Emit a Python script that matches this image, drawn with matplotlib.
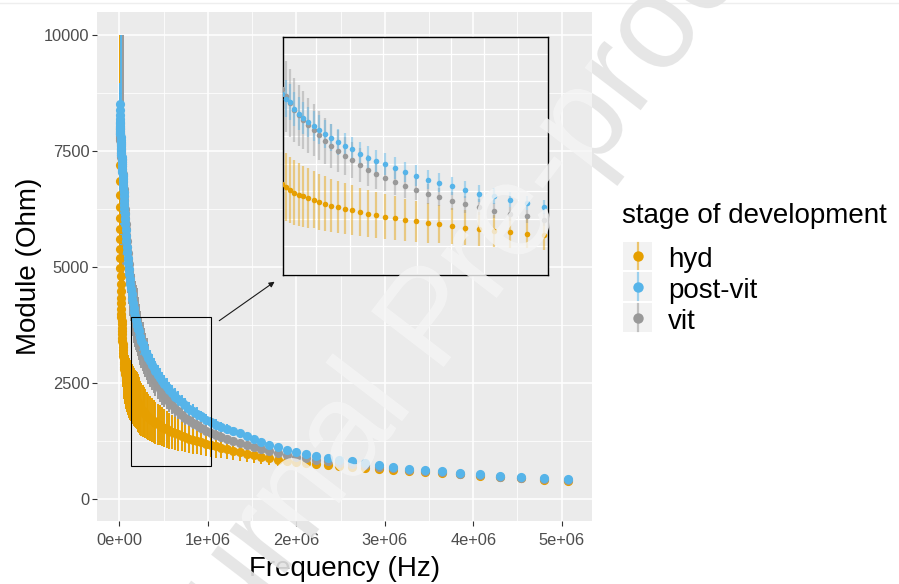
import matplotlib
matplotlib.use('Agg')
import matplotlib.pyplot as plt
from matplotlib.patches import Rectangle, PathPatch
from matplotlib.path import Path
from matplotlib.textpath import TextPath
from matplotlib.font_manager import FontProperties
from matplotlib.transforms import Affine2D, IdentityTransform

plt.rcParams['font.family'] = ['Liberation Sans', 'DejaVu Sans']

# ---------------- data ----------------
freq_hz = [1e3, 2e3, 3e3, 4e3, 5e3, 6e3, 7e3, 8e3, 9e3, 10.5e3, 12e3, 13.5e3, 15e3, 16.5e3,
           18e3, 19.5e3, 21.1e3, 22.3e3, 23.6e3, 24.9e3, 26.3e3, 27.8e3, 29.3e3, 31.0e3,
           32.7e3, 34.6e3, 36.5e3, 38.5e3, 40.7e3, 43.0e3, 45.4e3, 48.0e3, 50.7e3, 53.5e3,
           56.5e3, 59.7e3, 63.0e3, 66.6e3, 70.3e3, 74.3e3, 78.5e3, 82.9e3, 87.6e3, 92.5e3,
           97.7e3, 103e3, 109e3, 115e3, 122e3, 129e3, 136e3, 144e3, 152e3, 160e3, 169e3,
           179e3, 189e3, 199e3,
           211e3, 222e3, 235e3, 248e3, 262e3, 277e3, 293e3, 309e3, 327e3, 345e3, 365e3,
           385e3, 407e3, 430e3, 454e3, 479e3, 506e3, 535e3, 565e3, 597e3, 631e3, 666e3,
           704e3, 743e3, 785e3, 830e3, 876e3, 926e3, 978e3,
           1033e3, 1091e3, 1153e3, 1218e3, 1287e3, 1359e3, 1436e3, 1517e3, 1602e3, 1693e3,
           1788e3, 1889e3, 1995e3, 2108e3, 2227e3, 2352e3, 2485e3, 2625e3, 2773e3, 2929e3,
           3095e3, 3269e3, 3453e3, 3648e3, 3854e3, 4071e3, 4301e3, 4543e3, 4799e3, 5070e3]

hyd = [7200, 6850, 6550, 6300, 6050, 5820, 5600, 5400, 5200, 4990, 4800, 4635, 4480, 4345,
       4220, 4105, 3990, 3920, 3845, 3770, 3700, 3625, 3555, 3480, 3410, 3340, 3270, 3210,
       3145, 3085, 3025, 2965, 2910, 2860, 2815, 2770, 2730, 2690, 2650, 2615, 2580, 2545,
       2510, 2480, 2450, 2420, 2390, 2365, 2335, 2310, 2285, 2260, 2238, 2215, 2192, 2170,
       2148, 2125,
       2074, 2027, 1973, 1936, 1905, 1874, 1845, 1802, 1773, 1736, 1711, 1682, 1651, 1620,
       1591, 1565, 1536, 1505, 1475, 1451, 1420, 1396, 1365, 1336, 1305, 1275, 1251, 1227, 1196,
       1170, 1140, 1110, 1080, 1050, 1015, 980, 945, 910, 880, 850, 825, 800, 780, 760, 740,
       720, 700, 680, 660, 640, 615, 590, 565, 540, 505, 478, 452, 425, 398]
hyd_err = [2800, 720, 720, 718, 715, 712, 710, 708, 705, 702, 700, 698, 696, 694, 692, 690,
           688, 686, 684, 682, 680, 678, 676, 674, 672, 670, 668, 666, 664, 662, 660, 658,
           656, 654, 652, 650, 648, 646, 644, 642, 640, 638, 636, 634, 632, 630, 629, 628,
           627, 626, 625, 624, 623, 622, 621, 620, 619, 618,
           615, 600, 585, 570, 555, 540, 525, 512, 500, 488, 476, 464, 452, 441, 430, 420,
           410, 398, 385, 372, 358, 345, 332, 320, 307, 295, 283, 270, 258,
           250, 240, 228, 215, 200, 188, 175, 162, 150, 138, 126, 115, 105, 95, 86, 78, 70,
           64, 58, 53, 48, 44, 40, 37, 34, 31, 29, 27, 25, 24]

post_vit = [8520, 8380, 8270, 8200, 8130, 8075, 8020, 7970, 7920, 7860, 7800, 7740, 7680,
            7625, 7570, 7515, 7455, 7415, 7370, 7325, 7275, 7220, 7170, 7110, 7050, 6985,
            6915, 6850, 6770, 6695, 6615, 6525, 6435, 6345, 6245, 6140, 6035, 5920, 5805,
            5680, 5560, 5445, 5320, 5200, 5080, 4970, 4855, 4745, 4630, 4520, 4420, 4315,
            4220, 4130, 4035, 3940, 3855, 3770,
            3682, 3620, 3500, 3409, 3336, 3256, 3183, 3118, 3045, 2973, 2893, 2820, 2760,
            2682, 2609, 2542, 2487, 2420, 2347, 2282, 2209, 2154, 2087, 2027, 1954, 1911,
            1845, 1784, 1711,
            1660, 1610, 1560, 1515, 1470, 1420, 1365, 1305, 1245, 1180, 1120, 1065, 1020,
            975, 930, 890, 855, 820, 775, 730, 690, 660, 628, 600, 570, 535, 505, 480, 455, 432]
post_vit_err = [440, 440, 438, 436, 434, 432, 430, 428, 426, 424, 422, 420, 418, 416, 2430,
                414, 412, 410, 408, 406, 404, 402, 400, 398, 396, 394, 392, 390, 388, 386,
                384, 382, 380, 378, 376, 374, 372, 370, 368, 366, 364, 362, 360, 358, 356,
                354, 352, 350, 348, 346, 344, 342, 341, 340, 339, 338, 337, 335,
                330, 320, 310, 300, 290, 280, 270, 262, 255, 248, 240, 232, 225, 218, 210,
                205, 200, 195, 190, 185, 178, 170, 163, 156, 149, 142, 135, 128, 120,
                115, 110, 105, 100, 95, 90, 85, 80, 76, 72, 68, 64, 60, 57, 54, 51, 48, 45,
                42, 40, 38, 36, 34, 32, 30, 29, 28, 27, 26, 25]

vit = [8100, 8050, 8000, 7965, 7930, 7895, 7860, 7825, 7790, 7740, 7690, 7645, 7600, 7555,
       7510, 7465, 7415, 7380, 7340, 7300, 7260, 7215, 7170, 7120, 7070, 7010, 6955, 6895,
       6825, 6760, 6685, 6610, 6530, 6445, 6355, 6260, 6160, 6050, 5940, 5820, 5695, 5560,
       5435, 5310, 5185, 5060, 4935, 4810, 4680, 4560, 4450, 4340, 4240, 4140, 4065, 3990,
       3920, 3855,
       3723, 3602, 3469, 3378, 3287, 3196, 3105, 3014, 2911, 2820, 2729, 2638, 2560, 2469,
       2378, 2305, 2245, 2165, 2093, 2027, 1954, 1893, 1820, 1760, 1711, 1645, 1591, 1542, 1482,
       1435, 1390, 1345, 1300, 1260, 1220, 1175, 1130, 1085, 1040, 995, 955, 920, 885, 850,
       820, 790, 765, 735, 700, 665, 640, 608, 582, 552, 515, 487, 462, 437, 415]
vit_err = [820, 820, 818, 816, 814, 812, 810, 808, 806, 804, 802, 800, 798, 796, 794, 792,
           790, 788, 786, 784, 782, 780, 778, 776, 774, 772, 770, 768, 766, 3240, 762, 760,
           758, 756, 754, 752, 750, 748, 746, 744, 742, 740, 738, 736, 734, 732, 730, 728,
           726, 724, 722, 720, 716, 712, 708, 702, 696, 690,
           640, 610, 580, 552, 525, 500, 475, 450, 425, 400, 376, 352, 330, 308, 287, 267,
           247, 228, 210, 195, 182, 170, 160, 150, 142, 135, 128, 121, 115,
           110, 105, 100, 95, 90, 85, 80, 76, 72, 68, 64, 60, 56, 53, 50, 47, 44, 41, 39,
           37, 35, 33, 31, 30, 29, 28, 27, 26, 25, 24]

stages = ['hyd', 'post-vit', 'vit']
stage_values = {'hyd': hyd, 'post-vit': post_vit, 'vit': vit}
stage_errors = {'hyd': hyd_err, 'post-vit': post_vit_err, 'vit': vit_err}
stage_colors = {'hyd': '#E69F00', 'post-vit': '#56B4E9', 'vit': '#999999'}
draw_order = ['hyd', 'vit', 'post-vit']

x_ticks = [0, 1e6, 2e6, 3e6, 4e6, 5e6]
x_tick_labels = ['0e+00', '1e+06', '2e+06', '3e+06', '4e+06', '5e+06']
x_minor = [0.5e6, 1.5e6, 2.5e6, 3.5e6, 4.5e6]
y_ticks = [0, 2500, 5000, 7500, 10000]
y_tick_labels = ['0', '2500', '5000', '7500', '10000']
y_minor = [1250, 3750, 6250, 8750]

x_label = 'Frequency (Hz)'
y_label = 'Module (Ohm)'
legend_title = 'stage of development'
watermark = 'Journal Pre-proof'

# ---------------- figure ----------------
W, H = 899, 584
fig = plt.figure(figsize=(W / 100, H / 100), dpi=100)
fig.patch.set_facecolor('white')


def frac(l, t, r, b):
    return [l / W, 1 - b / H, (r - l) / W, (b - t) / H]


PL, PT, PR, PB = 97.3, 11.7, 591.7, 521.0
ax = fig.add_axes(frac(PL, PT, PR, PB))
ax.set_facecolor('#EBEBEB')
for s in ax.spines.values():
    s.set_visible(False)
ax.set_xlim(-0.251e6, 5.339e6)
ax.set_ylim(-467, 10502)
ax.set_xticks(x_ticks)
ax.set_xticklabels(x_tick_labels)
ax.set_xticks(x_minor, minor=True)
ax.set_yticks(y_ticks)
ax.set_yticklabels(y_tick_labels)
ax.set_yticks(y_minor, minor=True)
ax.set_axisbelow(True)
ax.grid(which='major', color='white', lw=1.1)
ax.grid(which='minor', color='white', lw=0.55)
ax.tick_params(which='minor', length=0)
ax.tick_params(which='major', length=3.8, width=0.8, color='#333333',
               labelcolor='#4D4D4D', labelsize=11.8)
ax.tick_params(axis='x', pad=5.0)
ax.tick_params(axis='y', pad=1.9)

for name in draw_order:
    ax.errorbar(freq_hz, stage_values[name], yerr=stage_errors[name], fmt='none',
                ecolor=stage_colors[name], elinewidth=1.4, capsize=0, zorder=2)
for name in draw_order:
    ax.plot(freq_hz, stage_values[name], 'o', ms=6.6, color=stage_colors[name],
            mec='none', zorder=3)

# zoom box and arrow
ax.add_patch(Rectangle((0.130e6, 724), 0.904e6, 3196, fill=False, ec='black',
                       lw=0.8, zorder=4))
ax.annotate('', xy=(1.754e6, 4687), xytext=(1.128e6, 3847),
            arrowprops=dict(arrowstyle='-|>', color='#1A1A1A', lw=0.8,
                            mutation_scale=8, shrinkA=0, shrinkB=0),
            annotation_clip=False, zorder=4)

ax.set_xlabel(x_label, fontsize=20, color='black')
ax.xaxis.set_label_coords(0.5, -0.094)
ax.xaxis.label.set_va('center')
ax.set_ylabel(y_label, fontsize=20, color='black')
ax.yaxis.set_label_coords(-0.139, 0.5)
ax.yaxis.label.set_va('center')

# inset
axi = fig.add_axes(frac(282.5, 37.3, 548.3, 275.3))
axi.set_facecolor('#EBEBEB')
axi.set_xlim(0.2e6, 0.99e6)
axi.set_ylim(469, 4796)
axi.set_xticks([0.3e6, 0.4e6, 0.5e6, 0.6e6, 0.7e6, 0.8e6, 0.9e6])
axi.set_yticks([500, 1000, 1500, 2000, 2500, 3000, 3500, 4000, 4500])
axi.tick_params(length=0, labelbottom=False, labelleft=False)
axi.set_axisbelow(True)
axi.grid(color='white', lw=0.9)
for s in axi.spines.values():
    s.set_color('black')
    s.set_linewidth(1.0)
for name in draw_order:
    axi.errorbar(freq_hz, stage_values[name], yerr=stage_errors[name], fmt='none',
                 ecolor=stage_colors[name], elinewidth=1.6, alpha=0.45, capsize=0, zorder=2)
for name in draw_order:
    axi.plot(freq_hz, stage_values[name], 'o', ms=4.0, color=stage_colors[name],
             mec='none', zorder=3)

# overlay (legend etc.) in pixel coordinates
ov = fig.add_axes([0, 0, 1, 1], zorder=5)
ov.set_xlim(0, W)
ov.set_ylim(H, 0)
ov.axis('off')
ov.plot([0, W], [3, 3], color='#EEEEEE', lw=1)
ov.text(622, 223.3, legend_title, fontsize=20, ha='left', va='baseline', color='black')
key_tops = [241.7, 272.3, 303.3]
for name, kt in zip(stages, key_tops):
    c = stage_colors[name]
    ov.add_patch(Rectangle((622.7, kt), 29.6, 28.6, fc='#F2F2F2', ec='none'))
    cx, cy = 637.5, kt + 14.3
    ov.plot([cx, cx], [kt + 1, kt + 27.6], color=c, lw=1.6, alpha=0.55)
    ov.plot([cx], [cy], 'o', ms=7.5, color=c, mec='none')
    ov.text(668, kt + 25.6, name, fontsize=20, ha='left', va='baseline', color='black')

# watermark
fp = FontProperties(family='Liberation Sans')
tp = TextPath((0, 0), watermark, size=133, prop=fp)
wpath = Affine2D().rotate_deg(52.5).translate(149, -167).transform_path(tp)
bl, bb, br, bt = PL, H - PB, PR, H - PT
outside = Path([(0, 0), (W, 0), (W, H), (0, H), (0, 0),
                (bl, bb), (bl, bt), (br, bt), (br, bb), (bl, bb)],
               [Path.MOVETO, Path.LINETO, Path.LINETO, Path.LINETO, Path.CLOSEPOLY,
                Path.MOVETO, Path.LINETO, Path.LINETO, Path.LINETO, Path.CLOSEPOLY])
inside = Path([(bl, bb), (br, bb), (br, bt), (bl, bt), (bl, bb)],
              [Path.MOVETO, Path.LINETO, Path.LINETO, Path.LINETO, Path.CLOSEPOLY])
p_out = PathPatch(wpath, fc='#E4E4E4', ec='none', alpha=0.9,
                  transform=IdentityTransform(), zorder=20)
p_out.set_clip_path(outside, IdentityTransform())
p_in = PathPatch(wpath, fc='#F5F5F5', ec='none', alpha=0.8,
                 transform=IdentityTransform(), zorder=20)
p_in.set_clip_path(inside, IdentityTransform())
fig.add_artist(p_out)
fig.add_artist(p_in)

fig.savefig('out.png', dpi=100)
